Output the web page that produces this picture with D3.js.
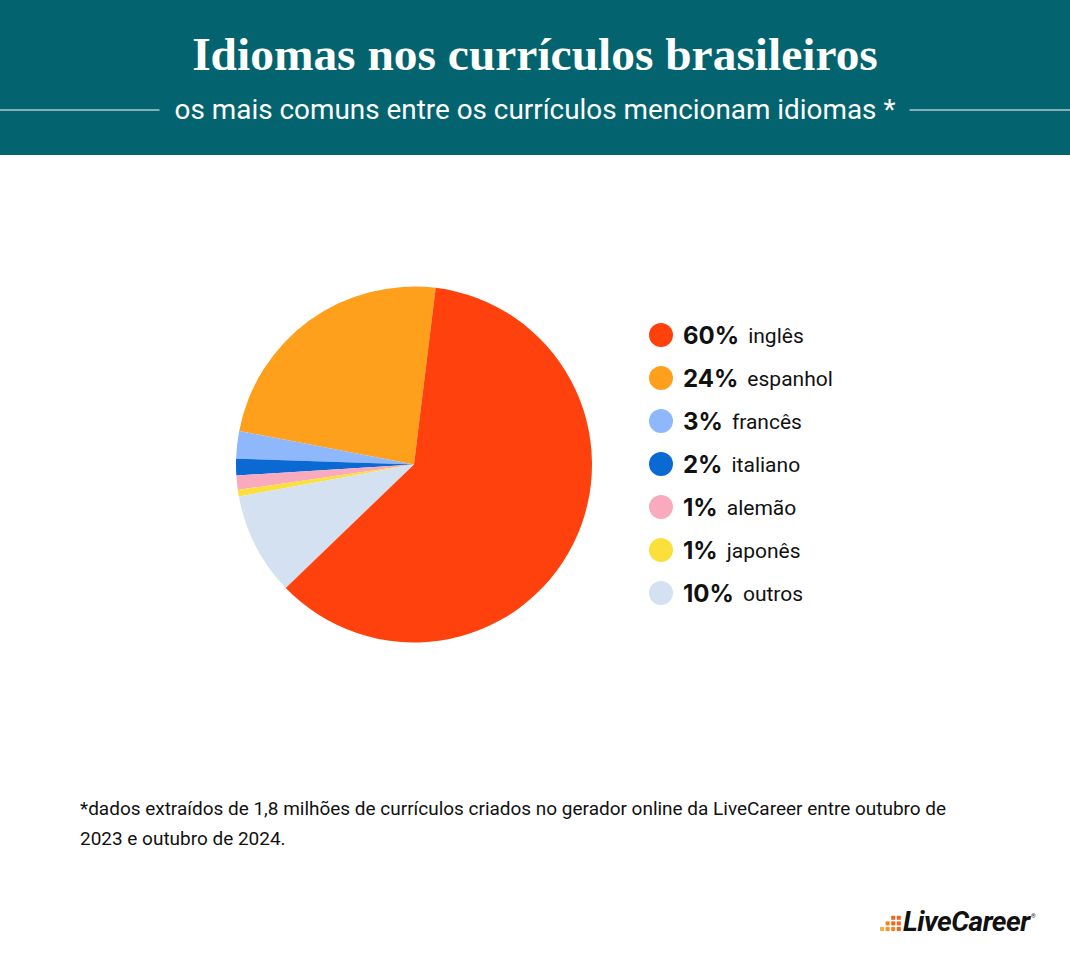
<!DOCTYPE html>
<html>
<head>
<meta charset="utf-8">
<script src="https://cdn.jsdelivr.net/npm/d3@7"></script>
<style>
  html, body { margin: 0; padding: 0; background: #ffffff; }
  svg { display: block; }
</style>
</head>
<body>
<svg id="chart" width="1070" height="957"></svg>
<script>
// ---- data ----
const languages = ["inglês", "espanhol", "francês", "italiano", "alemão", "japonês", "outros"];
const shares = [60.8, 23.9, 2.5, 1.5, 1.3, 0.6, 9.3];
const shareLabels = ["60%", "24%", "3%", "2%", "1%", "1%", "10%"];
const sliceColors = ["#ff410d", "#ffa01c", "#8fb7fb", "#0a69d3", "#f9abbd", "#fbe03b", "#d4e1f0"];
const title = "Idiomas nos currículos brasileiros";
const subtitle = "os mais comuns entre os currículos mencionam idiomas *";
const footnoteLines = [
  "*dados extraídos de 1,8 milhões de currículos criados no gerador online da LiveCareer entre outubro de",
  "2023 e outubro de 2024."
];
// order in which slices are laid counter-clockwise from the top
const pieOrder = [1, 2, 3, 4, 5, 6, 0];

const W = 1070, H = 957;
const svg = d3.select("#chart");

// ---- header ----
const headerH = 155;
svg.append("rect").attr("x", 0).attr("y", 0).attr("width", W).attr("height", headerH).attr("fill", "#03636e");

const t = svg.append("text")
  .attr("x", W / 2).attr("y", 70)
  .attr("text-anchor", "middle")
  .attr("font-family", "'Liberation Serif', 'DejaVu Serif', serif")
  .attr("font-weight", 700)
  .attr("font-size", 42)
  .attr("fill", "#ffffff")
  .text(title);
const tw = t.node().getComputedTextLength();
t.attr("font-size", 42 * 686 / tw);

const st = svg.append("text")
  .attr("x", W / 2).attr("y", 119)
  .attr("text-anchor", "middle")
  .attr("font-family", "Roboto, 'Noto Sans', sans-serif")
  .attr("font-size", 24)
  .attr("fill", "#ffffff")
  .text(subtitle);
const sw = st.node().getComputedTextLength();
st.attr("font-size", 24 * 721 / sw);
const sHalf = 721 / 2;
svg.append("line").attr("x1", 0).attr("x2", W / 2 - sHalf - 15).attr("y1", 110).attr("y2", 110)
  .attr("stroke", "#ffffff").attr("stroke-width", 1.2);
svg.append("line").attr("x1", W / 2 + sHalf + 14).attr("x2", W).attr("y1", 110).attr("y2", 110)
  .attr("stroke", "#ffffff").attr("stroke-width", 1.2);

// ---- pie ----
const cx = 414, cy = 464.5, R = 178;
const startDeg = 7;
const pie = d3.pie()
  .sort(null)
  .value(i => shares[i])
  .startAngle(startDeg * Math.PI / 180)
  .endAngle(startDeg * Math.PI / 180 - 2 * Math.PI);
const arc = d3.arc().innerRadius(0).outerRadius(R);
const g = svg.append("g").attr("transform", `translate(${cx},${cy})`);
g.selectAll("path")
  .data(pie(pieOrder))
  .join("path")
  .attr("d", arc)
  .attr("fill", d => sliceColors[d.data]);

// ---- legend ----
const rowY = d3.scalePoint().domain(languages).range([335, 593]);
const legend = svg.append("g");
const rows = legend.selectAll("g").data(languages).join("g")
  .attr("transform", d => `translate(661,${rowY(d)})`);
rows.append("circle").attr("r", 12).attr("fill", (d, i) => sliceColors[i]);
rows.each(function (d, i) {
  const r = d3.select(this);
  const p = r.append("text")
    .attr("x", 22).attr("y", 8.5)
    .attr("font-family", "Inter, Roboto, sans-serif")
    .attr("font-weight", 700)
    .attr("font-size", 24)
    .attr("fill", "#111111")
    .text(shareLabels[i]);
  const pw = p.node().getComputedTextLength();
  r.append("text")
    .attr("x", 22 + pw + 9).attr("y", 7.5)
    .attr("font-family", "Roboto, Inter, sans-serif")
    .attr("font-size", 21)
    .attr("fill", "#111111")
    .text(d);
});

// ---- footnote ----
const fn = svg.append("g").selectAll("text").data(footnoteLines).join("text")
  .attr("x", 80)
  .attr("y", (d, i) => 815 + i * 30)
  .attr("font-family", "Roboto, sans-serif")
  .attr("font-size", 18)
  .attr("fill", "#111111")
  .text(d => d);
const fw = fn.nodes()[0].getComputedTextLength();
fn.attr("font-size", 18 * 867 / fw);

// ---- logo ----
const logo = svg.append("g").attr("transform", "translate(880,931)");
const sq = 4, gap = 1.6;
const cols = [1, 2, 3, 3];
const oranges = ["#fbb040", "#f7941d", "#f58220", "#f26522"];
cols.forEach((n, ci) => {
  for (let k = 0; k < n; k++) {
    logo.append("rect")
      .attr("x", ci * (sq + gap))
      .attr("y", -(k + 1) * (sq + gap) + gap)
      .attr("width", sq).attr("height", sq)
      .attr("fill", oranges[Math.min(ci + k, 3)]);
  }
});
const lt = logo.append("text")
  .attr("x", 23).attr("y", 0)
  .attr("font-family", "Roboto, 'Liberation Sans', sans-serif")
  .attr("font-weight", 700)
  .attr("font-style", "italic")
  .attr("font-size", 24)
  .attr("letter-spacing", -0.5)
  .attr("fill", "#111111")
  .text("LiveCareer");
const lw = lt.node().getComputedTextLength();
lt.attr("font-size", 24 * 126 / lw);
logo.append("text")
  .attr("x", 23 + 128).attr("y", -13)
  .attr("font-family", "Roboto, sans-serif")
  .attr("font-size", 6)
  .attr("fill", "#111111")
  .text("®");
</script>
</body>
</html>
